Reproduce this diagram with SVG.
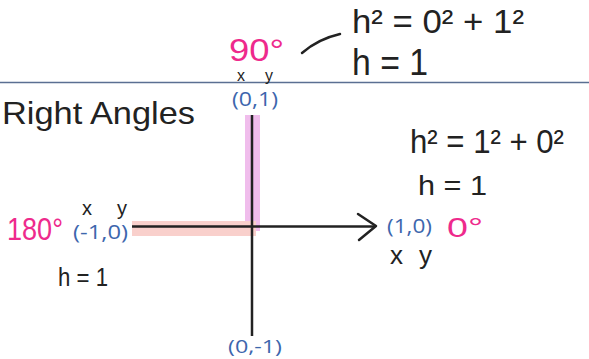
<svg xmlns="http://www.w3.org/2000/svg" width="589" height="359" viewBox="0 0 589 359">
<style>
.ink{font-family:"Liberation Sans","DejaVu Sans",sans-serif;fill:#222222}
.pink{font-family:"Liberation Sans","DejaVu Sans",sans-serif;fill:#ee2a8c}
.blue{font-family:"Open Sans","Liberation Sans",sans-serif;fill:#3d66ad}
.axis{stroke:#222222;stroke-width:2.5;fill:none}
</style>
<rect width="589" height="359" fill="#ffffff"/>
<line x1="0" y1="82.5" x2="589" y2="82.5" stroke="#5a6f92" stroke-width="1.5"/>
<g id="highlights">
<rect x="245" y="115" width="15" height="116" fill="#f0bdec"/>
<rect x="132" y="221" width="124" height="15" fill="#f9d0cc"/>
</g>
<g id="connectors">
<line class="axis" x1="252" y1="115" x2="252" y2="336"/>
<line class="axis" x1="132" y1="226.5" x2="374" y2="226.5"/>
<polyline class="axis" stroke-width="3" stroke-linecap="round" stroke-linejoin="round" points="358,214 376,226 359,240"/>
<path class="axis" stroke-width="2.5" stroke-linecap="round" d="M302,53 Q318,39 340,34"/>
</g>
<g id="title"><text class="ink" x="2" y="124" font-size="32" textLength="193" lengthAdjust="spacingAndGlyphs">Right Angles</text></g>
<g id="top">
<text class="pink" x="229" y="61" font-size="31" textLength="55" lengthAdjust="spacingAndGlyphs">90°</text>
<text class="ink" x="237" y="81" font-size="16" textLength="36" lengthAdjust="spacing">x y</text>
<text class="blue" x="232" y="106" font-size="20" textLength="46" lengthAdjust="spacingAndGlyphs">(0,1)</text>
<text class="ink" x="352" y="33" font-size="34" textLength="172" lengthAdjust="spacingAndGlyphs">h² = 0² + 1²</text>
<text class="ink" x="352" y="75" font-size="36" textLength="76" lengthAdjust="spacingAndGlyphs">h = 1</text>
</g>
<g id="right">
<text class="ink" x="410" y="153" font-size="34" textLength="154" lengthAdjust="spacingAndGlyphs">h² = 1² + 0²</text>
<text class="ink" x="418" y="195" font-size="28" textLength="69" lengthAdjust="spacingAndGlyphs">h = 1</text>
<text class="blue" x="387" y="233" font-size="20" textLength="45" lengthAdjust="spacingAndGlyphs">(1,0)</text>
<text class="pink" x="447" y="237" font-size="28" textLength="36" lengthAdjust="spacingAndGlyphs">0°</text>
<text class="ink" x="390" y="264" font-size="26" textLength="42" lengthAdjust="spacing">x y</text>
</g>
<g id="left">
<text class="pink" x="7" y="240" font-size="31" textLength="56" lengthAdjust="spacingAndGlyphs">180°</text>
<text class="ink" x="82" y="215" font-size="20" textLength="45" lengthAdjust="spacing">x y</text>
<text class="blue" x="73" y="239" font-size="20" textLength="55" lengthAdjust="spacingAndGlyphs">(-1,0)</text>
<text class="ink" x="58" y="286" font-size="26" textLength="50" lengthAdjust="spacingAndGlyphs">h = 1</text>
</g>
<g id="bottom"><text class="blue" x="228" y="353" font-size="19" textLength="54" lengthAdjust="spacingAndGlyphs">(0,-1)</text></g>
</svg>
